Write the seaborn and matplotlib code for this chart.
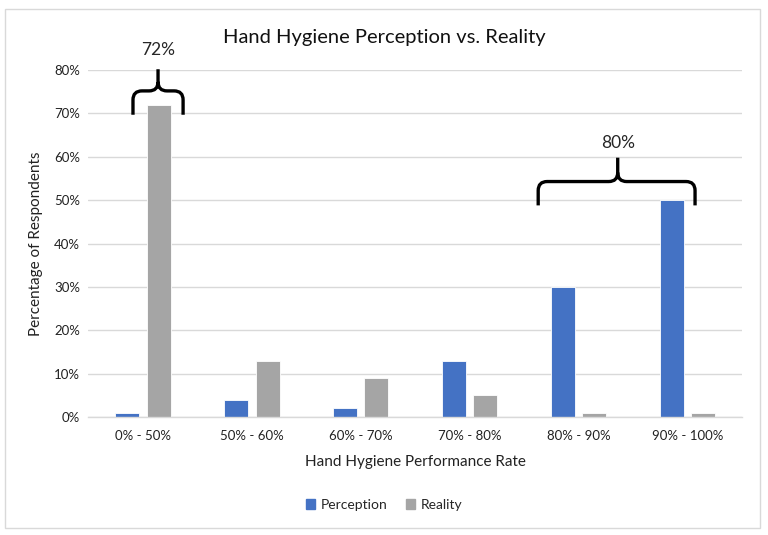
import pandas as pd
import numpy as np
import matplotlib
matplotlib.use('Agg')
import matplotlib.pyplot as plt
from matplotlib.path import Path
from matplotlib.patches import PathPatch, Rectangle
from matplotlib.transforms import IdentityTransform
from matplotlib.ticker import PercentFormatter
import seaborn as sns

# Chart data
categories = ['0% - 50%', '50% - 60%', '60% - 70%', '70% - 80%', '80% - 90%', '90% - 100%']
perception = [1, 4, 2, 13, 30, 50]
reality = [72, 13, 9, 5, 1, 1]
series_names = ['Perception', 'Reality']
series_colors = ['#4472C4', '#A5A5A5']

# Brace annotations: (x_start, x_end, x_tip, y_ends, y_line, y_tip, label, y_label)
braces = [
    (-0.09, 0.37, 0.14, 69.7, 75.2, 80.2, '72%', 84.6),
    (3.63, 5.07, 4.36, 48.8, 54.3, 59.8, '80%', 63.3),
]

df = pd.DataFrame({
    'Category': categories * 2,
    'Value': perception + reality,
    'Series': [series_names[0]] * len(categories) + [series_names[1]] * len(categories),
})

sns.set_style('white')
plt.rcParams['font.family'] = ['Lato', 'DejaVu Sans']

fig = plt.figure(figsize=(7.68, 5.35), dpi=100)
ax = fig.add_axes([0.115, 0.2205, 0.851, 0.6485])

sns.barplot(data=df, x='Category', y='Value', hue='Series', palette=series_colors,
            width=0.58, gap=0.24, ax=ax, legend=False, saturation=1,
            edgecolor='white', linewidth=0.6)

ax.set_ylim(0, 80)
ax.set_xlim(-0.5, 5.5)
ax.set_yticks(np.arange(0, 81, 10))
ax.yaxis.set_major_formatter(PercentFormatter(decimals=0))
ax.grid(axis='y', color='#D9D9D9', linewidth=1)
ax.set_axisbelow(True)
for s in ['left', 'right', 'top']:
    ax.spines[s].set_visible(False)
ax.spines['bottom'].set_color('#D9D9D9')
ax.spines['bottom'].set_linewidth(1)
ax.tick_params(axis='both', length=0, labelsize=9.5, colors='#222222')
ax.tick_params(axis='x', pad=9)
ax.tick_params(axis='y', pad=6)
ax.set_xlabel('Hand Hygiene Performance Rate', fontsize=11, labelpad=10, color='#222222')
ax.set_ylabel('Percentage of Respondents', fontsize=11, labelpad=8, color='#222222')

fig.text(0.5, 0.929, 'Hand Hygiene Perception vs. Reality', ha='center', va='center',
         fontsize=14.5, color='#111111')

# legend
handles = [Rectangle((0, 0), 1, 1, color=c) for c in series_colors]
fig.legend(handles, series_names, loc='center', bbox_to_anchor=(0.5, 0.056), ncol=2,
           frameon=False, fontsize=10, handlelength=0.7, handleheight=0.7,
           handletextpad=0.4, columnspacing=1.3)


def draw_brace(x0, x1, xt, ye, yl, yt, r=9):
    tr = ax.transData
    (px0, pye), (px1, pyl), (pxt, pyt) = tr.transform([(x0, ye), (x1, yl), (xt, yt)])
    verts = [
        (px0, pye), (px0, pyl - r), (px0, pyl), (px0 + r, pyl),
        (pxt - r, pyl), (pxt, pyl), (pxt, pyl + r),
        (pxt, pyt),
        (pxt, pyl + r), (pxt, pyl), (pxt + r, pyl),
        (px1 - r, pyl), (px1, pyl), (px1, pyl - r), (px1, pye),
    ]
    codes = [Path.MOVETO, Path.LINETO, Path.CURVE3, Path.CURVE3,
             Path.LINETO, Path.CURVE3, Path.CURVE3,
             Path.LINETO,
             Path.MOVETO, Path.CURVE3, Path.CURVE3,
             Path.LINETO, Path.CURVE3, Path.CURVE3, Path.LINETO]
    patch = PathPatch(Path(verts, codes), transform=IdentityTransform(), fill=False,
                      edgecolor='black', linewidth=2.4, capstyle='butt', joinstyle='round')
    fig.add_artist(patch)


for x0, x1, xt, ye, yl, yt, label, ylab in braces:
    draw_brace(x0, x1, xt, ye, yl, yt)
    ax.text(xt, ylab, label, ha='center', va='center', fontsize=12.5, clip_on=False)

# outer frame
fig.add_artist(Rectangle((5 / 768, 1 - 528 / 535), 755 / 768, 519 / 535,
                         transform=fig.transFigure, fill=False, edgecolor='#D9D9D9', linewidth=1))

fig.savefig('out.png', dpi=100)
